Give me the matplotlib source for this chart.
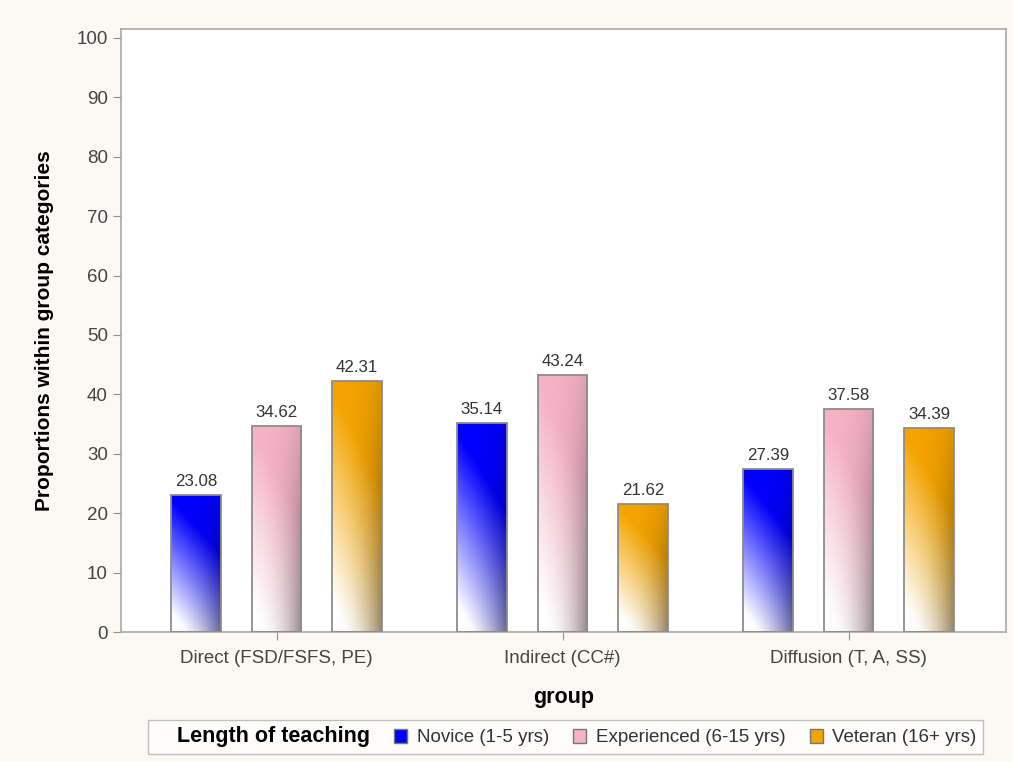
import numpy as np
import matplotlib
matplotlib.use("Agg")
import matplotlib.pyplot as plt
from matplotlib.patches import Patch
from matplotlib.colors import to_rgb

plt.rcParams['font.family'] = ['Liberation Sans', 'DejaVu Sans']

# datos
groups = ['Direct (FSD/FSFS, PE)', 'Indirect (CC#)', 'Diffusion (T, A, SS)']
series = ['Novice (1-5 yrs)', 'Experienced (6-15 yrs)', 'Veteran (16+ yrs)']
novice = [23.08, 35.14, 27.39]
experienced = [34.62, 43.24, 37.58]
veteran = [42.31, 21.62, 34.39]
colores = ['#0000ff', '#f5b3c6', '#f5a500']

fig = plt.figure(figsize=(10.13, 7.62), dpi=100, facecolor='#fcf9f5')
ax = fig.add_axes([0.1194, 0.1706, 0.8736, 0.7914])
ax.set_facecolor('white')

x = np.arange(len(groups))
w = 0.174
off = 0.282


def gradiente(color, n=120, m=30):
    c = np.array(to_rgb(color))
    yy = np.linspace(0, 1, n)[:, None]
    xx = np.linspace(0, 1, m)[None, :]
    t = np.clip(1.2 * yy + 0.45 * xx - 0.15, 0, 1)
    img = (1 - t[..., None]) * 1.0 + t[..., None] * c
    sombra = 1 - xx ** 2.5 * (0.1 + 0.3 * (1 - yy))
    img = img * sombra[..., None]
    return np.clip(img[::-1], 0, 1)


for i, (vals, col) in enumerate(zip([novice, experienced, veteran], colores)):
    bars = ax.bar(x + (i - 1) * off, vals, w, facecolor='none',
                  edgecolor='#8c8c8c', linewidth=1.3, zorder=3)
    for b, v in zip(bars, vals):
        x0, y0 = b.get_x(), b.get_y()
        im = ax.imshow(gradiente(col), extent=[x0, x0 + b.get_width(), y0, y0 + b.get_height()],
                       aspect='auto', zorder=2, interpolation='bilinear')
        im.set_clip_path(b)
        ax.text(b.get_x() + b.get_width() / 2, v + 1.0, '%.2f' % v, ha='center', va='bottom',
                fontsize=12.2, color='#333333')

ax.set_xlim(-0.544, 2.55)
ax.set_ylim(0, 101.5)
ax.set_yticks(np.arange(0, 101, 10))
ax.set_xticks(x)
ax.set_xticklabels(groups)
ax.tick_params(colors='#444444', labelsize=13.5, length=6, color='#909090')
ax.tick_params(axis='x', pad=7)
for s in ax.spines.values():
    s.set_color('#a8a8a8')
    s.set_linewidth(1.2)

ax.set_xlabel('group', fontsize=15.5, fontweight='bold', labelpad=14)
ax.set_ylabel('Proportions within group categories', fontsize=15, fontweight='bold', labelpad=16)

handles = [Patch(visible=False)] + [Patch(facecolor=c, edgecolor='#777777') for c in colores]
labels = ['Length of teaching'] + series
leg = fig.legend(handles, labels, loc='center', bbox_to_anchor=(0.558, 0.033), ncol=4,
                 fontsize=13.5, frameon=True, fancybox=False, edgecolor='#b0b0b0',
                 handlelength=0.7, handleheight=0.8, handletextpad=0.5, columnspacing=1.3,
                 borderpad=0.35)
leg.get_frame().set_facecolor('white')
leg.get_texts()[0].set_fontweight('bold')
leg.get_texts()[0].set_fontsize(15.5)
for t in leg.get_texts()[1:]:
    t.set_color('#333333')

fig.savefig('out.png', dpi=100, facecolor=fig.get_facecolor())
